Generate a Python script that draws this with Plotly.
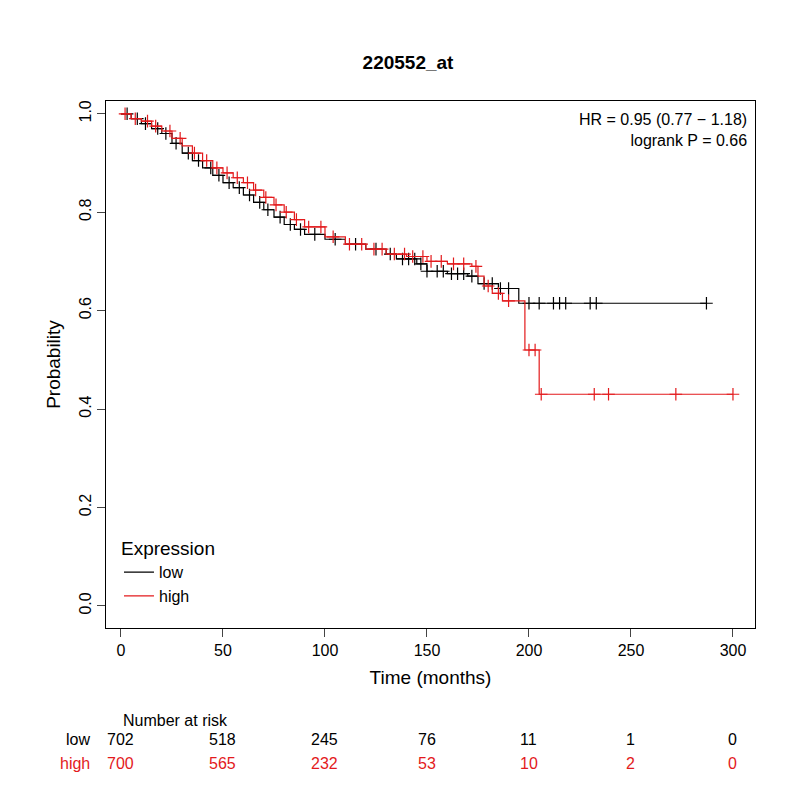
import numpy as np
import plotly.graph_objects as go

# step-curve knots
low_t = [0, 5, 10, 15, 20, 25, 30, 35, 40, 45, 50, 55, 60, 65, 70, 75, 80, 85, 90, 100, 110, 120, 130, 135, 145, 150, 160, 170, 175, 185, 195, 287]
low_s = [1.0, 0.99, 0.98, 0.97, 0.96, 0.94, 0.92, 0.905, 0.89, 0.875, 0.86, 0.85, 0.835, 0.82, 0.805, 0.79, 0.775, 0.765, 0.755, 0.745, 0.735, 0.725, 0.715, 0.705, 0.695, 0.68, 0.675, 0.67, 0.655, 0.645, 0.615, 0.615]
high_t = [0, 5, 10, 15, 20, 25, 30, 35, 40, 45, 50, 55, 60, 65, 70, 75, 80, 85, 90, 100, 110, 120, 130, 140, 150, 160, 172, 175, 178, 182, 187, 198, 205, 300]
high_s = [1.0, 0.99, 0.985, 0.975, 0.965, 0.95, 0.935, 0.92, 0.905, 0.89, 0.88, 0.87, 0.86, 0.845, 0.83, 0.815, 0.8, 0.785, 0.77, 0.75, 0.735, 0.725, 0.715, 0.71, 0.70, 0.695, 0.69, 0.67, 0.65, 0.635, 0.62, 0.52, 0.43, 0.43]

low_cens = [3, 8, 12, 18, 22, 27, 33, 38, 44, 48, 53, 58, 63, 68, 72, 78, 83, 88, 95, 105, 115, 125, 132, 138, 141, 144, 147, 150, 155, 158, 162, 165, 168, 172, 178, 182, 186, 190, 200, 205, 212, 215, 218, 230, 233, 287]
high_cens = [2, 7, 13, 17, 24, 29, 36, 42, 47, 52, 57, 62, 66, 71, 76, 81, 86, 92, 98, 104, 112, 118, 124, 128, 134, 139, 143, 148, 152, 157, 163, 168, 174, 180, 185, 190, 200, 203, 206, 232, 239, 272, 300]

times_risk = [0, 50, 100, 150, 200, 250, 300]
risk_low = [702, 518, 245, 76, 11, 1, 0]
risk_high = [700, 565, 232, 53, 10, 2, 0]


def surv_at(ts, ss, c):
    i = np.searchsorted(ts, c, side="right") - 1
    return ss[i]


fig = go.Figure()
for name, col, ts, ss, cens in [("low", "black", low_t, low_s, low_cens),
                                ("high", "#e31a1c", high_t, high_s, high_cens)]:
    fig.add_trace(go.Scatter(x=ts, y=ss, mode="lines", line_shape="hv",
                             line=dict(color=col, width=1.2), name=name))
    fig.add_trace(go.Scatter(x=cens, y=[surv_at(ts, ss, c) for c in cens], mode="markers",
                             marker=dict(symbol="cross-thin", size=9, line=dict(color=col, width=1.2)),
                             showlegend=False))

ann = [dict(text="HR = 0.95 (0.77 − 1.18)<br>logrank P = 0.66", xref="paper", yref="paper",
            x=0.99, y=0.985, xanchor="right", yanchor="top", align="right", showarrow=False,
            font=dict(size=16)),
       dict(text="Number at risk", xref="x", yref="paper", x=0, y=-0.195, xanchor="left",
            showarrow=False, font=dict(size=16)),
       dict(text="low", xref="paper", yref="paper", x=-0.022, y=-0.2315, xanchor="right",
            showarrow=False, font=dict(size=16)),
       dict(text="high", xref="paper", yref="paper", x=-0.022, y=-0.277, xanchor="right",
            showarrow=False, font=dict(size=16, color="#e31a1c"))]
for t, a, b in zip(times_risk, risk_low, risk_high):
    ann.append(dict(text=str(a), x=t, xref="x", yref="paper", y=-0.2315, showarrow=False, font=dict(size=16)))
    ann.append(dict(text=str(b), x=t, xref="x", yref="paper", y=-0.277, showarrow=False,
                    font=dict(size=16, color="#e31a1c")))

fig.update_layout(
    width=800, height=800, plot_bgcolor="white", paper_bgcolor="white",
    margin=dict(l=98, r=53, t=93, b=180),
    font=dict(family="Liberation Sans, Arial", size=16, color="black"),
    title=dict(text="<b>220552_at</b>", x=0.5, y=0.941, xanchor="center", font=dict(size=19)),
    xaxis=dict(range=[-7.35, 310.8], tickvals=times_risk, showgrid=False, zeroline=False,
               showline=True, mirror=True, linecolor="black", ticks="outside", ticklen=8,
               title=dict(text="Time (months)", standoff=12)),
    yaxis=dict(range=[-0.045, 1.026], tickvals=[0, 0.2, 0.4, 0.6, 0.8, 1.0],
               ticktext=["0.0", "0.2", "0.4", "0.6", "0.8", "1.0"], tickangle=-90,
               showgrid=False, zeroline=False, showline=True, mirror=True, linecolor="black",
               ticks="outside", ticklen=8, title=dict(text="Probability", standoff=10)),
    legend=dict(x=0.02, y=0.185, xanchor="left", yanchor="top", title=dict(text="Expression"),
                bgcolor="rgba(0,0,0,0)"),
    annotations=ann,
)
fig.write_html("out.html")
